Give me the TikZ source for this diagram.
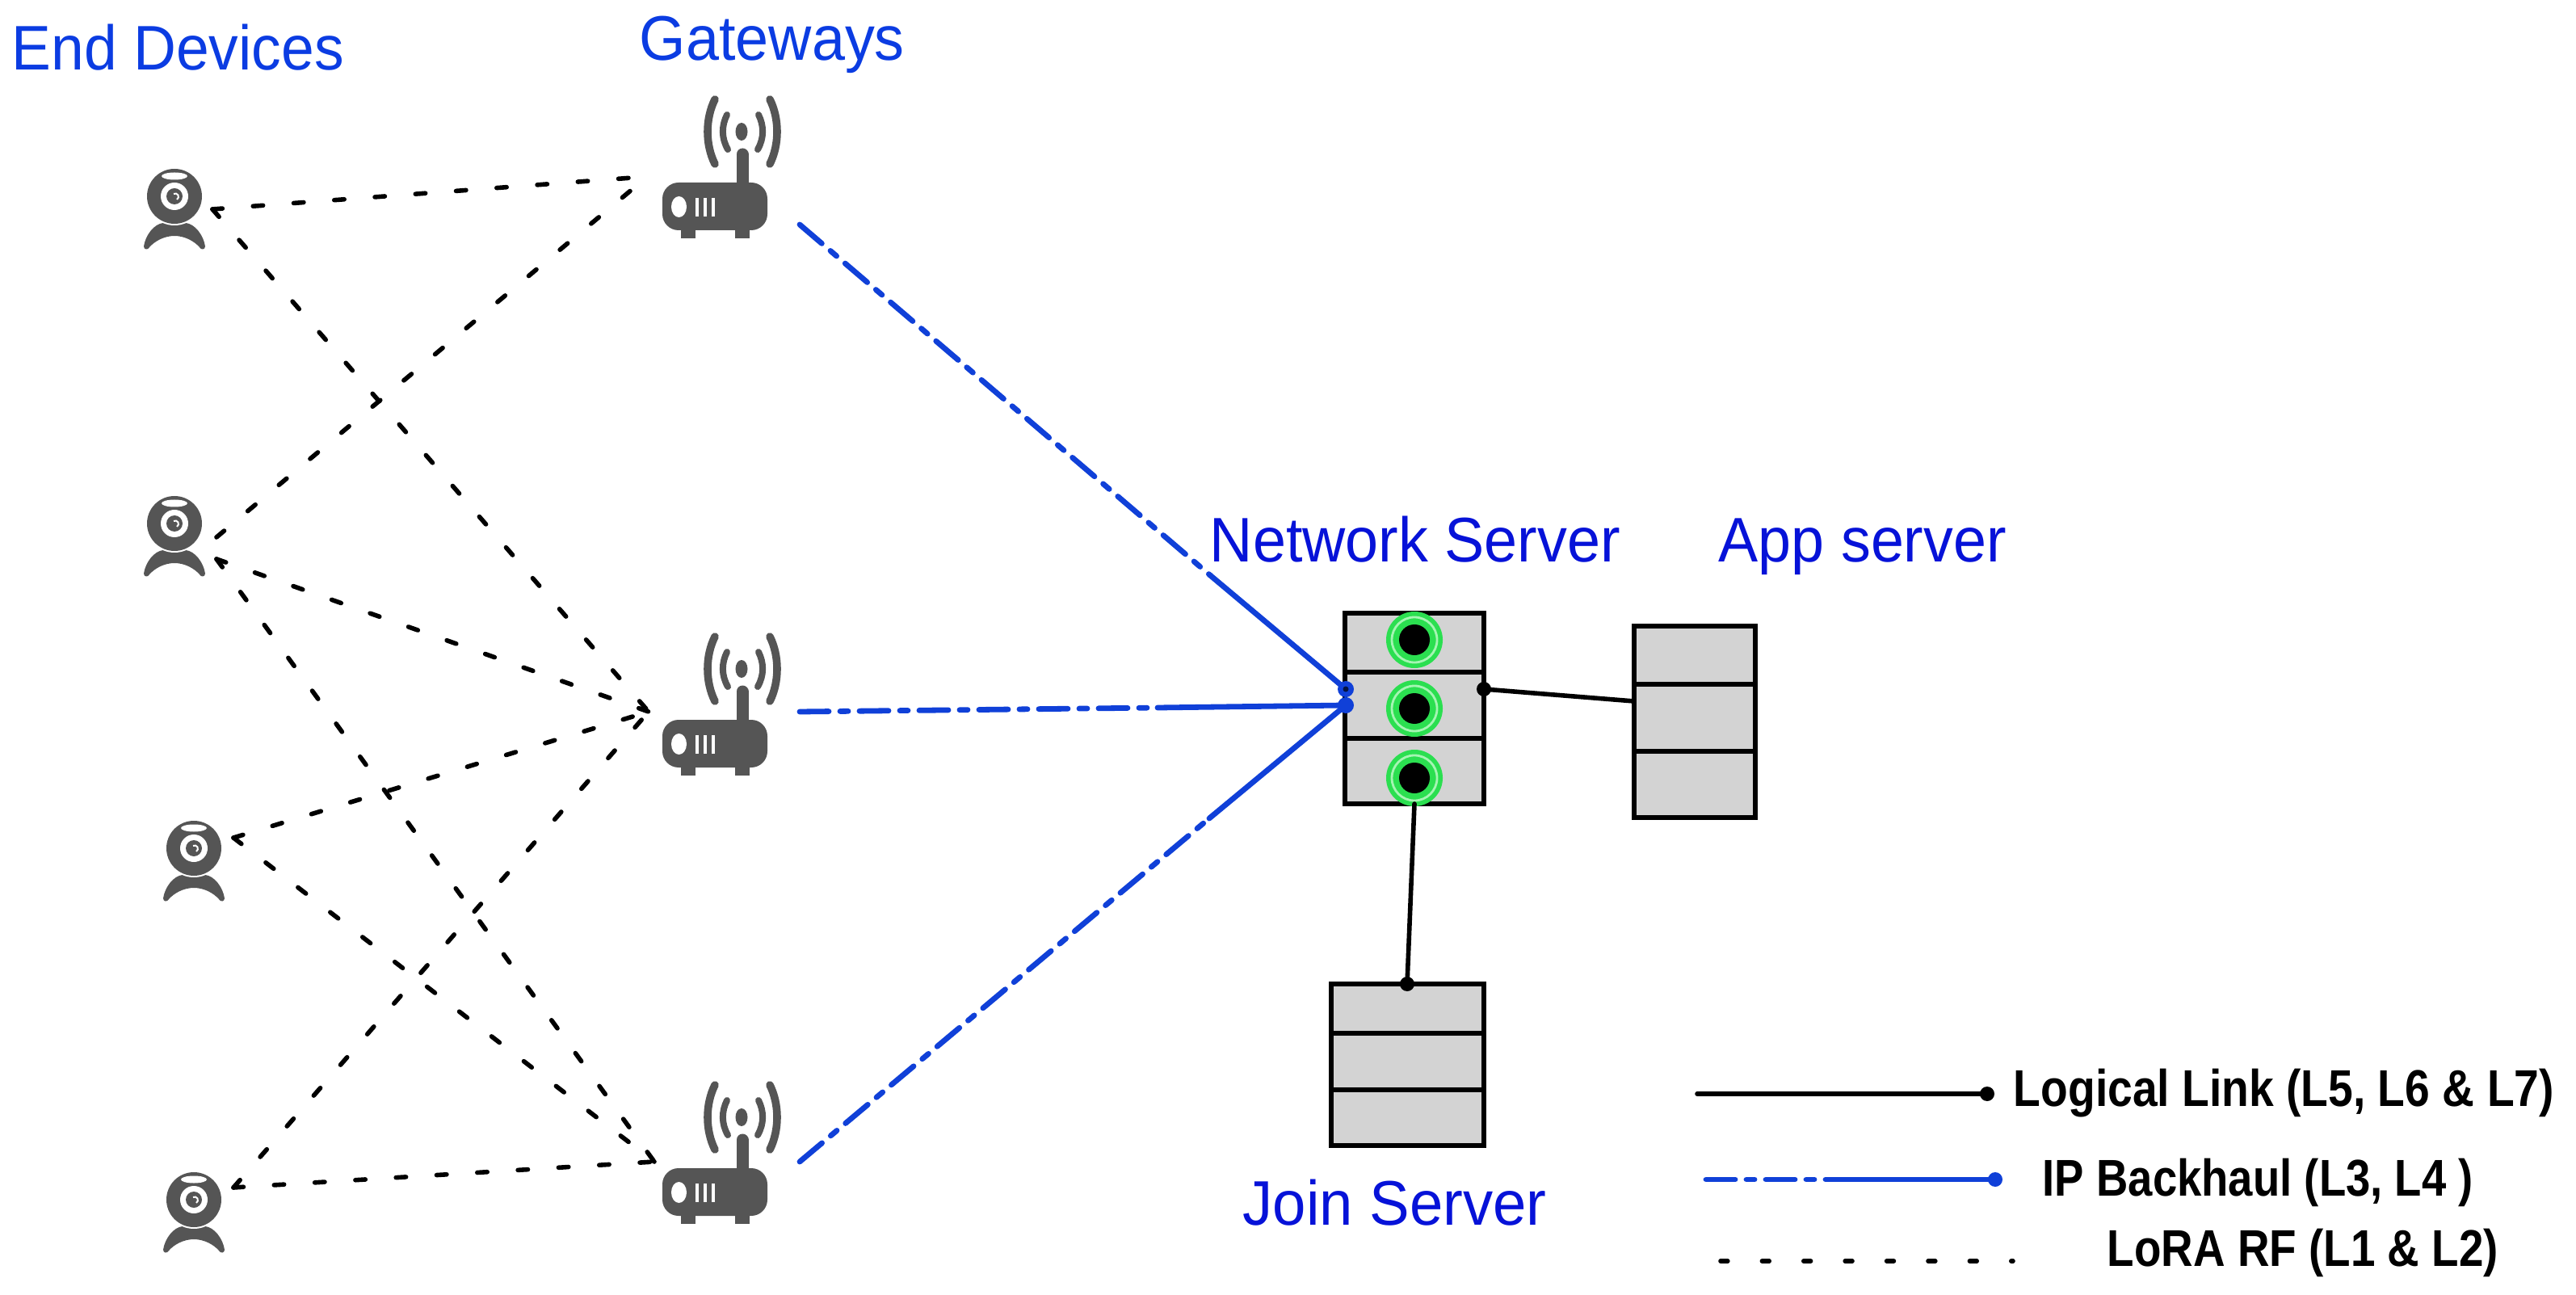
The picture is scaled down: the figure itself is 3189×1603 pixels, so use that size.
\documentclass[tikz,border=0pt]{standalone}
\usepackage{fontspec}
\usepackage{graphicx}
\setmainfont{Liberation Sans}
\definecolor{lblue}{HTML}{0B3CE2}
\definecolor{dblue}{HTML}{0612D8}
\definecolor{lineblue}{HTML}{1040D8}
\definecolor{devgray}{HTML}{555555}
\definecolor{boxgray}{HTML}{D3D3D3}
\definecolor{ringgreen}{HTML}{2BDF50}
\definecolor{ringlight}{HTML}{A5F5B3}
\newcommand{\fitw}[2]{\resizebox{#1pt}{\height}{#2}}
\tikzset{
  x=0.25pt,y=-0.25pt,
  head/.style={text=lblue,inner sep=0pt,anchor=base west,font=\fontsize{19.5}{23}\selectfont},
  legtext/.style={text=black,inner sep=0pt,anchor=base west,font=\fontsize{16}{19}\selectfont\bfseries},
  lora/.style={black,line width=1.4pt,line cap=round,dash pattern=on 3.1pt off 9.5pt},
  ipdash/.style={lineblue,line width=1.7pt,line cap=round,dash pattern=on 9pt off 3.5pt on 2.5pt off 3.5pt},
  ipsolid/.style={lineblue,line width=1.7pt,line cap=round},
  logical/.style={black,line width=1.4pt,line cap=round},
  box/.style={draw=black,fill=boxgray,line width=1.4pt,inner sep=0pt},
  divider/.style={black,line width=1.4pt},
  camera/.pic={
    \fill[devgray] (-38,62) .. controls (-36,48) and (-25,34) .. (-14,33) -- (14,33)
       .. controls (25,34) and (36,48) .. (38,62)
       .. controls (38,66) and (33,67) .. (31,63)
       .. controls (24,55) and (12,49) .. (0,49)
       .. controls (-12,49) and (-24,55) .. (-31,63)
       .. controls (-33,67) and (-38,66) .. (-38,62) -- cycle;
    \fill[white] (0,0) circle [radius=36];
    \fill[devgray] (0,0) circle [radius=34];
    \fill[white] (0,-25) ellipse [x radius=16,y radius=4.5];
    \fill[white] (0,0) circle [radius=17];
    \fill[devgray] (0,0) circle [radius=10];
    \draw[white,line width=0.5pt] (-1,-3) arc [start angle=-120,end angle=60,x radius=4,y radius=4];
  },
  router/.pic={
    \fill[devgray,rounded corners=5pt] (-98,-1) rectangle (32,58);
    \fill[devgray] (-75,56) rectangle (-57,68);
    \fill[devgray] (-8,56) rectangle (10,68);
    \fill[white] (-77.5,29) ellipse [x radius=9.5,y radius=13];
    \foreach \vx in {-55,-45,-35} \draw[white,line width=0.8pt] (\vx,18) -- (\vx,41);
    \draw[devgray,line width=3.75pt,line cap=round] (1,-36) -- (1,5);
    \fill[devgray] (0,-64) ellipse [x radius=7.5,y radius=11];
    \draw[devgray,line width=2pt,line cap=round]
      (-18,-85) .. controls (-25,-71) and (-25,-56) .. (-17,-42)
      (21,-85) .. controls (28,-71) and (28,-56) .. (20,-42);
    \draw[devgray,line width=2.4pt,line cap=round]
      (-33,-104) .. controls (-45,-80) and (-45,-48) .. (-33,-24)
      (35,-104) .. controls (47,-80) and (47,-48) .. (35,-24);
  },
  rings/.pic={
    \fill[ringgreen] (0,0) circle [radius=35];
    \draw[ringlight,line width=0.7pt] (0,0) circle [radius=28];
    \fill[black] (0,0) circle [radius=19];
  }
}
\begin{document}
\begin{tikzpicture}
\useasboundingbox (0,0) rectangle (3189,1603);

% text labels
\node[head] (lEnd) at (14,87) {\fitw{102.75}{End Devices}};
\node[head] (lGw) at (791,75) {\fitw{82}{Gateways}};
\node[head,text=dblue] (lNs) at (1497,696) {\fitw{127}{Network Server}};
\node[head,text=dblue] (lApp) at (2127,696) {\fitw{89}{App server}};
\node[head,text=dblue] (lJoin) at (1538,1516) {\fitw{94}{Join Server}};

% end devices
\pic at (216,243) {camera};
\pic at (216,648) {camera};
\pic at (240,1050) {camera};
\pic at (240,1485) {camera};
\node[inner sep=0pt,minimum size=20pt] (cam1) at (216,260) {};
\node[inner sep=0pt,minimum size=20pt] (cam2) at (216,666) {};
\node[inner sep=0pt,minimum size=20pt] (cam3) at (240,1068) {};
\node[inner sep=0pt,minimum size=20pt] (cam4) at (240,1503) {};
\coordinate (c1) at (263,259);
\coordinate (c2a) at (268,665);
\coordinate (c2b) at (268,692);
\coordinate (c3) at (289,1037);
\coordinate (c4) at (289,1470);

% gateways
\pic at (918,227) {router};
\pic at (918,892) {router};
\pic at (918,1447) {router};
\coordinate (g1a) at (783,220);
\coordinate (g1b) at (783,234);
\coordinate (g2) at (803,881);
\coordinate (g3) at (810,1438);
\coordinate (g1out) at (990,278);
\coordinate (g2out) at (990,881);
\coordinate (g3out) at (990,1438);

% RF links
\draw[lora] (c1) -- (g1a);
\draw[lora] (c1) -- (g2);
\draw[lora] (c2a) -- (g1b);
\draw[lora] (c2b) -- (g2);
\draw[lora] (c2b) -- (g3);
\draw[lora] (c3) -- (g2);
\draw[lora] (c3) -- (g3);
\draw[lora] (c4) -- (g2);
\draw[lora] (c4) -- (g3);

% servers
\node[box,minimum width=43pt,minimum height=59pt] (ns) at (1751,877) {};
\draw[divider] (1665,832) -- (1837,832);
\draw[divider] (1665,914) -- (1837,914);
\node[box,minimum width=37.5pt,minimum height=59.25pt] (app) at (2098,893.5) {};
\draw[divider] (2023,847) -- (2173,847);
\draw[divider] (2023,930) -- (2173,930);
\node[box,minimum width=47.25pt,minimum height=50pt] (join) at (1742.5,1318) {};
\draw[divider] (1648,1279) -- (1837,1279);
\draw[divider] (1648,1349) -- (1837,1349);
\pic at (1751,792) {rings};
\pic at (1751,877) {rings};
\pic at (1751,963) {rings};

% backhaul
\coordinate (ns1) at (1666,853);
\coordinate (ns2) at (1666,873);
\coordinate (m1) at (1498,712);
\coordinate (m2) at (1433,876);
\coordinate (m3) at (1497,1013);
\draw[ipdash] (g1out) -- (m1);
\draw[ipsolid] (m1) -- (ns1);
\draw[ipdash] (g2out) -- (m2);
\draw[ipsolid] (m2) -- (ns2);
\draw[ipdash] (g3out) -- (m3);
\draw[ipsolid] (m3) -- (ns2);
\fill[lineblue] (ns1) circle [radius=10];
\fill[lineblue] (ns2) circle [radius=10];
\fill[black!70!lineblue] (ns1) circle [radius=3.5];

% logical links
\coordinate (nsR) at (1837,853);
\coordinate (appL) at (2023,868);
\coordinate (nsB) at (1751,995);
\coordinate (joinT) at (1742,1218);
\draw[logical] (nsR) -- (appL);
\draw[logical] (nsB) -- (joinT);
\fill[black] (nsR) circle [radius=9];
\fill[black] (joinT) circle [radius=9];

% legend
\coordinate (la) at (2101,1354);
\coordinate (lb) at (2460,1354);
\draw[logical] (la) -- (lb);
\fill[black] (lb) circle [radius=9];
\node[legtext] (t1) at (2492,1369) {\fitw{167.25}{Logical Link (L5, L6 \& L7)}};
\coordinate (ia) at (2112,1460);
\coordinate (im) at (2261,1460);
\coordinate (ib) at (2470,1460);
\draw[ipdash] (ia) -- (im);
\draw[ipsolid] (im) -- (ib);
\fill[lineblue] (ib) circle [radius=9];
\node[legtext] (t2) at (2528,1480) {\fitw{133.25}{IP Backhaul (L3, L4 )}};
\coordinate (ra) at (2130,1561);
\coordinate (rb) at (2492,1561);
\draw[black,line width=1.4pt,line cap=round,dash pattern=on 2.2pt off 10.65pt] (ra) -- (rb);
\node[legtext] (t3) at (2608,1567) {\fitw{121}{LoRA RF (L1 \& L2)}};
\end{tikzpicture}
\end{document}
